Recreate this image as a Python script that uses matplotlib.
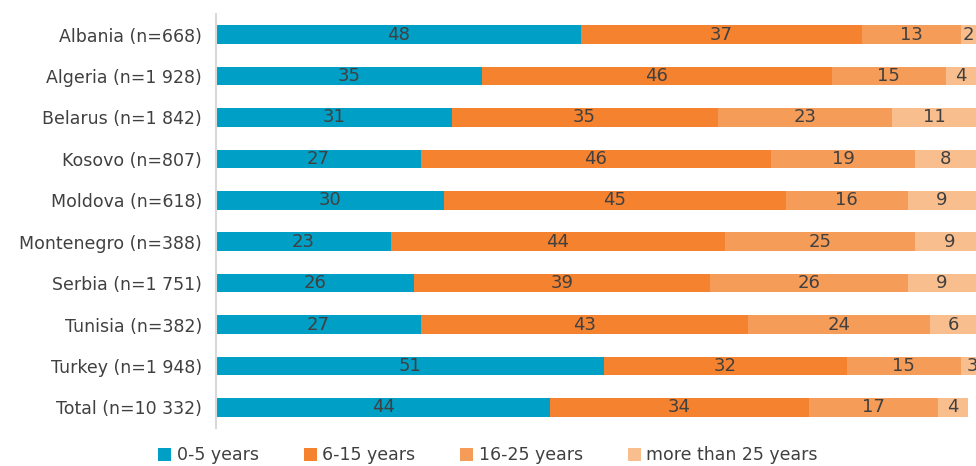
import matplotlib.pyplot as plt
import numpy as np

countries = ["Albania (n=668)", "Algeria (n=1 928)", "Belarus (n=1 842)",
             "Kosovo (n=807)", "Moldova (n=618)", "Montenegro (n=388)",
             "Serbia (n=1 751)", "Tunisia (n=382)", "Turkey (n=1 948)",
             "Total (n=10 332)"]
years_0_5 = [48, 35, 31, 27, 30, 23, 26, 27, 51, 44]
years_6_15 = [37, 46, 35, 46, 45, 44, 39, 43, 32, 34]
years_16_25 = [13, 15, 23, 19, 16, 25, 26, 24, 15, 17]
years_25_plus = [2, 4, 11, 8, 9, 9, 9, 6, 3, 4]
series_names = ["0-5 years", "6-15 years", "16-25 years", "more than 25 years"]
colors = ["#009FC5", "#F5822F", "#F69C59", "#F9BE8D"]

plt.rcParams['font.family'] = ['DejaVu Sans']
text_color = "#404040"

fig = plt.figure(figsize=(9.76, 4.66), dpi=100)
ax = fig.add_axes([0.2213, 0.0815, 0.7787, 0.8885])

y = np.arange(len(countries))
left = np.zeros(len(countries))
for name, vals, col in zip(series_names,
                           [years_0_5, years_6_15, years_16_25, years_25_plus],
                           colors):
    vals = np.array(vals, dtype=float)
    ax.barh(y, vals, left=left, height=0.45, color=col, label=name)
    for yi, l, v in zip(y, left, vals):
        ax.text(l + v / 2, yi, f"{int(v)}", ha="center", va="center",
                fontsize=13, color=text_color, clip_on=True)
    left += vals

ax.set_xlim(0, 100)
ax.set_ylim(len(countries) - 0.5, -0.5)
ax.set_yticks(y)
ax.set_yticklabels(countries, fontsize=12.5, color=text_color)
ax.tick_params(axis="y", length=0, pad=10)
ax.set_xticks([])
for s in ["top", "right", "bottom"]:
    ax.spines[s].set_visible(False)
ax.spines["left"].set_color("#D9D9D9")
ax.spines["left"].set_linewidth(1.5)

fig.legend(loc="lower center", bbox_to_anchor=(0.5, -0.03), ncol=4,
           frameon=False, fontsize=12.5, handlelength=0.75, handleheight=0.75,
           handletextpad=0.3, columnspacing=2.6, labelcolor=text_color)

fig.savefig("out.png", dpi=100)
